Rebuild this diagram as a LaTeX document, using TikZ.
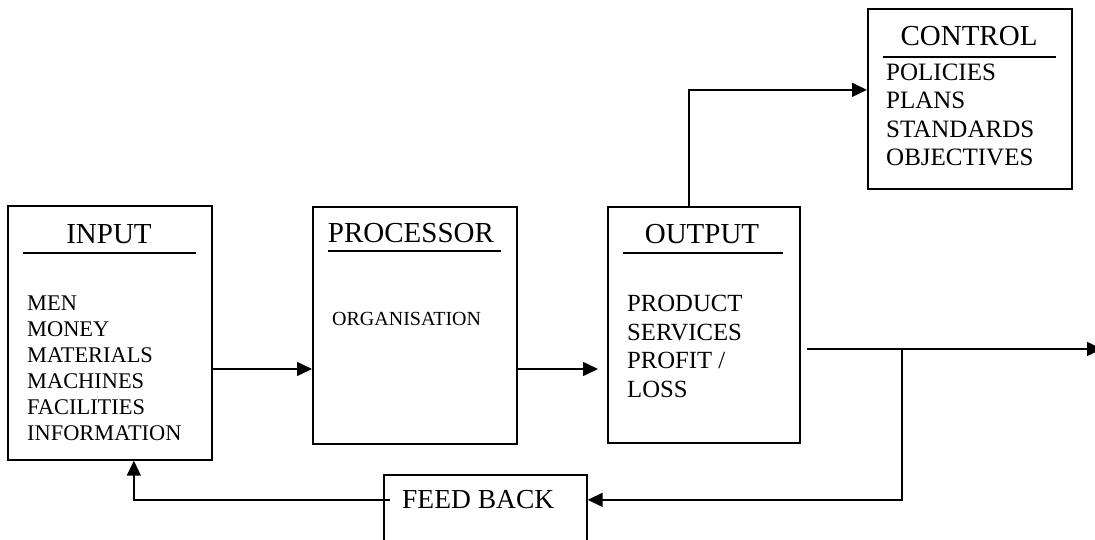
\documentclass[tikz,border=0pt]{standalone}
\usepackage{fontspec}
\setmainfont{Liberation Serif}
\usetikzlibrary{arrows.meta}

\begin{document}
\begin{tikzpicture}[x=1pt, y=-1pt,
  blk/.style={draw, rectangle, line width=1.7pt, anchor=north west, inner sep=0},
  head/.style={inner sep=0, anchor=base, font=\fontsize{29}{29}\selectfont},
  item/.style={inner sep=0, anchor=base west, font=\fontsize{#1}{#1}\selectfont},
  item/.default=22.4,
  rule/.style={line width=1.7pt},
  arr/.style={line width=1.5pt, -{Triangle[length=15pt, width=14pt]}}]
\useasboundingbox (0,0) rectangle (1095,539);
% boxes
\node[blk, minimum width=204pt, minimum height=254pt] (input) at (7,205){};
\node[blk, minimum width=204pt, minimum height=237pt] (proc) at (312,206){};
\node[blk, minimum width=192pt, minimum height=236pt] (output) at (607,206){};
\node[blk, minimum width=204pt, minimum height=180pt] (control) at (867,8){};
\node[blk, minimum width=203pt, minimum height=90pt] (feedback) at (383,474){};
% titles
\node[head] (inputT) at (109,243){INPUT};
\node[head] (procT) at (411,242){PROCESSOR};
\node[head] (outputT) at (702,243){OUTPUT};
\node[head] (controlT) at (969,45){CONTROL};
\node[head, anchor=base west, font=\fontsize{27.5}{27.5}\selectfont] (feedbackT) at (402,508){FEED BACK};
\draw[rule] (23,253) -- (196,253);
\draw[rule] (328,251) -- (501,251);
\draw[rule] (623,253) -- (783,253);
\draw[rule] (883,57) -- (1056,57);
% input items
\node[item] (in0) at (27,310){MEN};
\node[item] (in1) at (27,336){MONEY};
\node[item] (in2) at (27,362){MATERIALS};
\node[item] (in3) at (27,388){MACHINES};
\node[item] (in4) at (27,414){FACILITIES};
\node[item] (in5) at (27,440){INFORMATION};
\node[item=20] (pr0) at (332,325){ORGANISATION};
\node[item=24.7] (out0) at (627,311){PRODUCT};
\node[item=24.7] (out1) at (627,340){SERVICES};
\node[item=24.7] (out2) at (627,368){PROFIT /};
\node[item=24.7] (out3) at (627,397){LOSS};
\node[item=25] (ctl0) at (886,80){POLICIES};
\node[item=25] (ctl1) at (886,108){PLANS};
\node[item=25] (ctl2) at (886,137){STANDARDS};
\node[item=25] (ctl3) at (886,165){OBJECTIVES};
% connectors
\coordinate (flow) at (0,369);
\coordinate (outstart) at (807,349);
\coordinate (outend) at (1102,349);
\coordinate (split) at (902,349);
\draw[arr](input.east |- flow) -- (proc.west |- flow);
\draw[arr, shorten >=9pt](proc.east |- flow) -- (output.west |- flow);
\draw[arr]([xshift=-15pt]output.north) |- ([yshift=9pt]control.west);
\draw[arr](outstart) -- (outend);
\draw[arr](split) |- ([yshift=20pt]feedback.east);
\draw[arr]([xshift=7pt,yshift=20pt]feedback.west) -| ([xshift=24pt]input.south);
\end{tikzpicture}
\end{document}
